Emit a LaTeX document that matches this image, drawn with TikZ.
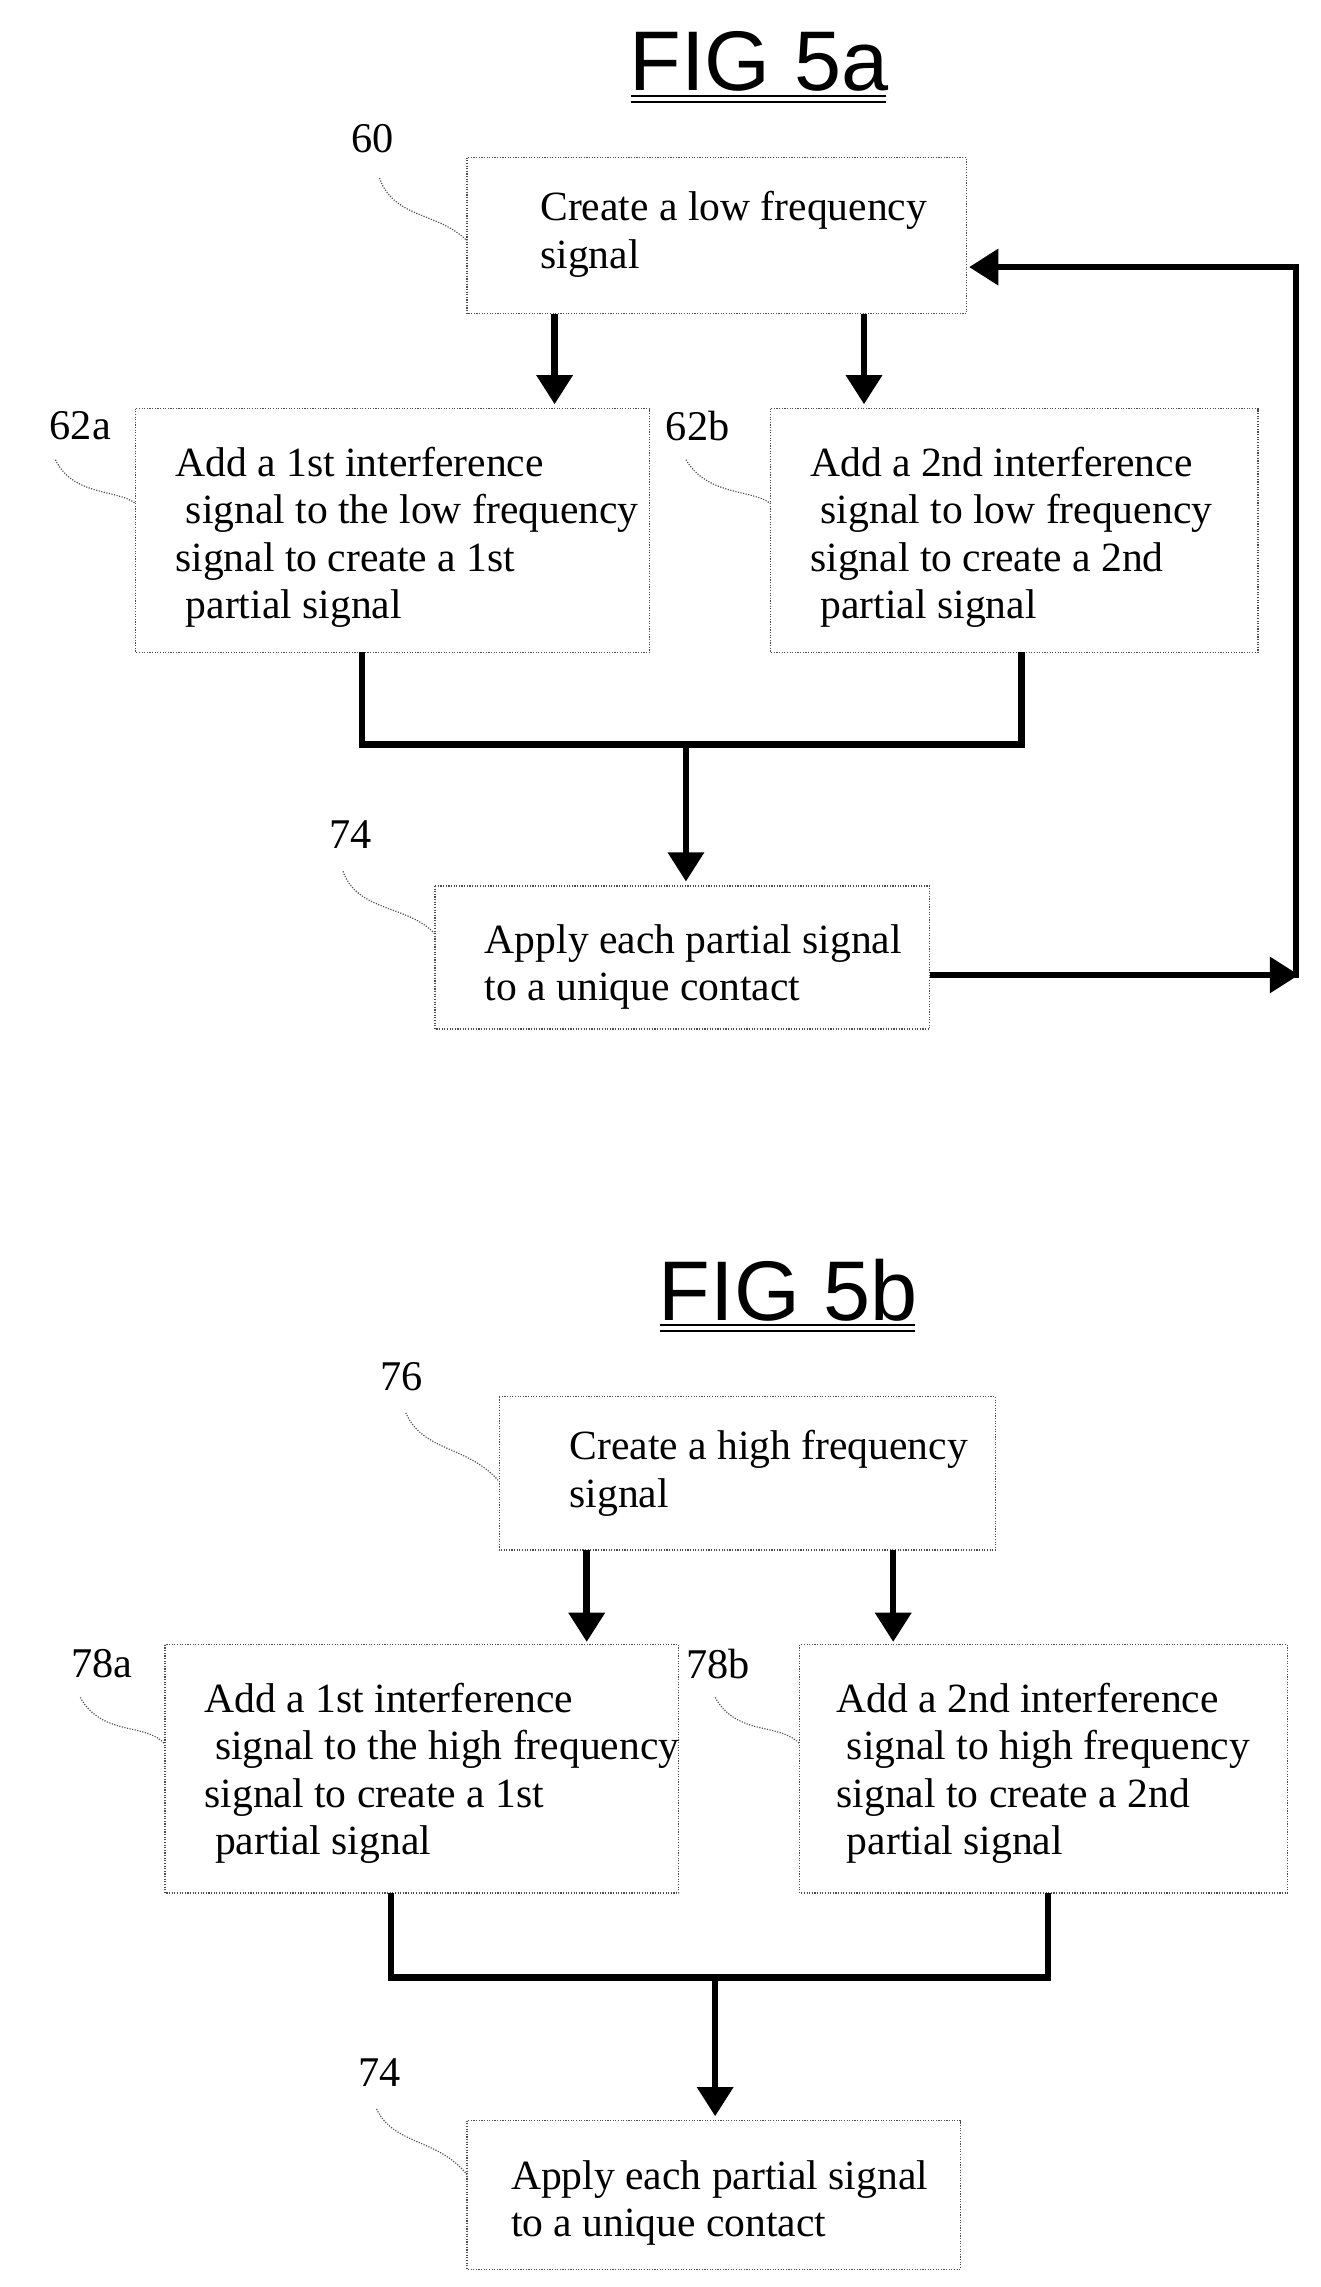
\documentclass[tikz,border=0pt]{standalone}
\usepackage{fontspec}
\setmainfont{Liberation Serif}
\setsansfont{Liberation Sans}
\usetikzlibrary{arrows.meta}
\begin{document}
\begin{tikzpicture}[x=1pt,y=-1pt,
  box/.style={draw=black!70,densely dotted,line width=0.8pt},
  txt/.style={anchor=north west,align=left,font=\fontsize{28.5}{32.5}\selectfont,inner sep=0pt},
  lab/.style={font=\fontsize{29}{32}\selectfont,inner sep=0pt},
  lead/.style={draw=black!70,densely dotted,line width=0.8pt},
  thick line/.style={line width=4.5pt},
  arr/.style={line width=4.5pt,-{Triangle[length=20pt,width=24pt]}},
  title/.style={font=\sffamily\fontsize{58}{60}\selectfont,inner sep=0pt}]
\useasboundingbox (0,0) rectangle (905,1567);
% FIG 5a
\node[title] (t1) at (520,42) {FIG 5a};
\draw[line width=1.5pt] (432,66)--(607,66) (432,70)--(607,70);
\draw[box] (320,108) rectangle (662,215);
\node[txt] (b60) at (370,131) {Create a low frequency\\signal};
\coordinate (b60l) at (320,165);
\node[lab] (l60) at (255,95) {60};
\draw[lead] (260,122) .. controls (270,150) and (300,145) .. (b60l);
\draw[box] (93,280) rectangle (445,447);
\node[txt] (b62a) at (120,306) {Add a 1st interference\\\ signal to the low frequency\\signal to create a 1st\\\ partial signal};
\node[lab] (l62a) at (55,292) {62a};
\draw[lead] (38,315) .. controls (50,340) and (80,335) .. (93,345);
\draw[box] (528,280) rectangle (862,447);
\node[txt] (b62b) at (555,306) {Add a 2nd interference\\\ signal to low frequency\\signal to create a 2nd\\\ partial signal};
\node[lab] (l62b) at (478,292) {62b};
\draw[lead] (470,315) .. controls (485,340) and (515,335) .. (528,345);
\coordinate (a1s) at (380,215); \coordinate (a1e) at (380,277);
\coordinate (a2s) at (592,215); \coordinate (a2e) at (592,277);
\draw[arr] (a1s)--(a1e); \draw[arr] (a2s)--(a2e);
\draw[box] (298,607) rectangle (637,705);
\node[txt] (b74) at (332,633) {Apply each partial signal\\to a unique contact};
\node[lab] (l74) at (240,572) {74};
\draw[lead] (235,597) .. controls (245,625) and (280,620) .. (298,640);
\draw[thick line] (248,447)--(248,510)--(700,510)--(700,447);
\draw[arr] (470,510)--(470,604);
\draw[arr] (637,668)--(890,668);
\draw[thick line] (888,670)--(888,183);
\draw[arr] (890,183)--(664,183);
% FIG 5b
\node[title] (t2) at (540,884) {FIG 5b};
\draw[line width=1.5pt] (452,908)--(627,908) (452,912)--(627,912);
\draw[box] (342,957) rectangle (682,1062);
\node[txt] (b76) at (390,980) {Create a high frequency\\signal};
\node[lab] (l76) at (275,943) {76};
\draw[lead] (278,968) .. controls (290,995) and (320,990) .. (342,1015);
\draw[box] (113,1127) rectangle (465,1297);
\node[txt] (b78a) at (140,1153) {Add a 1st interference\\\ signal to the high frequency\\signal to create a 1st\\\ partial signal};
\node[lab] (l78a) at (70,1140) {78a};
\draw[lead] (55,1163) .. controls (70,1190) and (100,1180) .. (113,1195);
\draw[box] (548,1127) rectangle (882,1297);
\node[txt] (b78b) at (573,1153) {Add a 2nd interference\\\ signal to high frequency\\signal to create a 2nd\\\ partial signal};
\node[lab] (l78b) at (492,1140) {78b};
\draw[lead] (490,1163) .. controls (505,1190) and (535,1180) .. (548,1195);
\draw[arr] (402,1062)--(402,1125); \draw[arr] (612,1062)--(612,1125);
\draw[thick line] (268,1297)--(268,1355)--(718,1355)--(718,1297);
\draw[arr] (490,1355)--(490,1450);
\draw[box] (320,1453) rectangle (658,1555);
\node[txt] (b74b) at (350,1480) {Apply each partial signal\\to a unique contact};
\node[lab] (l74b) at (260,1420) {74};
\draw[lead] (258,1445) .. controls (270,1470) and (300,1465) .. (320,1490);
\end{tikzpicture}
\end{document}
